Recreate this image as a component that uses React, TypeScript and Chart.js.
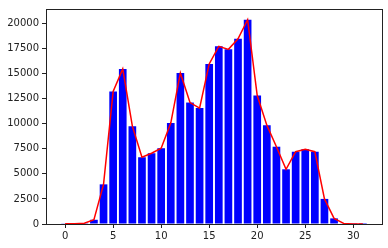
import React, { useEffect, useRef } from "react";
import { Chart, registerables } from "chart.js";

Chart.register(...registerables);

const hours = [0, 1, 2, 3, 4, 5, 6, 7, 8, 9, 10, 11, 12, 13, 14, 15, 16, 17, 18, 19, 20, 21, 22, 23, 24, 25, 26, 27, 28, 29, 30, 31];
const counts = [30, 20, 80, 420, 3950, 13200, 15450, 9750, 6650, 7050, 7550, 10050, 15050, 12100, 11550, 15950, 17700, 17400, 18450, 20350, 12800, 9850, 7700, 5450, 7200, 7450, 7200, 2500, 560, 60, 10, 5];
const xTicks = [0, 5, 10, 15, 20, 25, 30];
const yTicks = [0, 2500, 5000, 7500, 10000, 12500, 15000, 17500, 20000];

const FONT = "'DejaVu Sans', sans-serif";

const framePlugin = {
  id: "frame",
  afterDraw(chart: any) {
    const { ctx, chartArea } = chart;
    ctx.save();
    ctx.strokeStyle = "#222";
    ctx.lineWidth = 1;
    ctx.strokeRect(
      Math.round(chartArea.left) + 0.5,
      Math.round(chartArea.top) + 0.5,
      Math.round(chartArea.right - chartArea.left),
      Math.round(chartArea.bottom - chartArea.top)
    );
    ctx.restore();
  },
};

export default function App() {
  const ref = useRef<HTMLCanvasElement>(null);
  useEffect(() => {
    const pts = hours.map((h, i) => ({ x: h, y: counts[i] }));
    const chart = new Chart(ref.current!, {
      type: "bar",
      data: {
        datasets: [
          {
            type: "line",
            data: pts,
            borderColor: "#ff0000",
            borderWidth: 1.5,
            pointRadius: 0,
            tension: 0,
            order: 0,
          } as any,
          {
            type: "bar",
            data: pts,
            backgroundColor: "#0000ff",
            borderWidth: 0,
            barPercentage: 0.8,
            categoryPercentage: 1,
            order: 1,
          } as any,
        ],
      },
      options: {
        animation: false,
        responsive: false,
        maintainAspectRatio: false,
        layout: { padding: { top: 6, right: 6, left: 0, bottom: 0 } },
        plugins: { legend: { display: false }, tooltip: { enabled: false } },
        scales: {
          x: {
            type: "linear",
            offset: false,
            min: -1.99,
            max: 32.99,
            afterBuildTicks: (s: any) => {
              s.ticks = xTicks.map((v) => ({ value: v }));
            },
            afterFit: (s: any) => {
              s.height = 24;
            },
            grid: { display: true, offset: false, drawOnChartArea: false, drawTicks: true, tickLength: 4, color: "#222" },
            border: { display: false },
            ticks: { color: "#222", font: { family: FONT, size: 10 }, padding: 2, maxRotation: 0, callback: (v: any) => String(v) },
          },
          y: {
            min: 0,
            max: 21420,
            afterBuildTicks: (s: any) => {
              s.ticks = yTicks.map((v) => ({ value: v }));
            },
            afterFit: (s: any) => {
              s.width = 46;
            },
            grid: { display: true, drawOnChartArea: false, drawTicks: true, tickLength: 4, color: "#222" },
            border: { display: false },
            ticks: { color: "#222", font: { family: FONT, size: 10 }, padding: 3, callback: (v: any) => String(v) },
          },
        },
      },
      plugins: [framePlugin],
    });
    return () => chart.destroy();
  }, []);
  return (
    <div style={{ position: "fixed", left: 0, top: 0, width: 388, height: 248, background: "#fff" }}>
      <canvas ref={ref} width={388} height={248} style={{ width: 388, height: 248 }} />
    </div>
  );
}
